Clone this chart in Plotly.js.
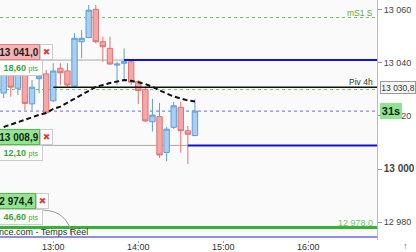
<!DOCTYPE html>
<html>
<head>
<meta charset="utf-8">
<script src="https://cdn.plot.ly/plotly-3.0.1.min.js"></script>
<style>
  html, body { margin: 0; padding: 0; background: #fff; }
  #chart { width: 416px; height: 252px; }
</style>
</head>
<body>
<div id="chart"></div>
<script>
// 5-minute candles of the session
const day = '2024-03-15';
const times = ['12:25','12:30','12:35','12:40','12:45','12:50','12:55','13:00','13:05','13:10',
               '13:15','13:20','13:25','13:30','13:35','13:40','13:45','13:50','13:55','14:00',
               '14:05','14:10','14:15','14:20','14:25','14:30','14:35','14:40'];
const open  = [13028.6,13036.5,13030.4,13035.4,13024.5,13034.0,13035.8,13025.7,13037.9,13036.9,
               13031.2,13047.9,13049.5,13060.1,13047.9,13045.4,13039.1,13039.8,13040.4,13032.9,
               13030.0,13017.8,13019.7,13006.2,13015.7,13023.2,13014.4,13012.6];
const high  = [13038.8,13038.0,13037.3,13037.3,13033.5,13038.4,13037.3,13039.8,13039.8,13039.8,
               13051.1,13052.3,13061.7,13061.7,13049.8,13049.8,13040.4,13045.4,13041.0,13033.5,
               13031.0,13026.4,13024.9,13015.9,13025.3,13025.3,13016.2,13026.2];
const low   = [13026.7,13027.2,13027.9,13022.2,13022.2,13028.5,13020.9,13025.2,13031.6,13031.0,
               13031.0,13041.7,13049.2,13047.3,13040.4,13039.1,13031.6,13033.5,13031.6,13024.5,
               13017.7,13014.1,13004.2,13003.0,13015.1,13006.2,13001.9,13012.4];
const close = [13037.3,13030.8,13035.8,13024.7,13030.8,13035.0,13021.2,13036.9,13036.2,13031.6,
               13049.2,13049.2,13059.8,13047.9,13046.0,13039.5,13039.5,13040.4,13032.7,13029.5,
               13018.1,13020.3,13005.3,13015.0,13023.8,13014.4,13013.1,13021.8];
// moving average (dashed)
const movingAvg = [13015.8,13016.7,13017.7,13018.6,13019.6,13020.4,13021.1,13022.6,13023.5,13025.0,
                   13026.7,13028.2,13029.7,13030.9,13031.6,13032.4,13032.9,13033.5,13033.2,13032.7,
                   13032.0,13030.9,13029.5,13028.4,13027.3,13026.5,13025.8,13025.4];

// reference levels
const mS1Level = 13057.0;
const pivot4hLevel = 13030.8;
const pivotBandLevel = 13029.9;
const supportLevel = 12978.0;
const lastPrice = close[close.length - 1];
const countdown = '31s';

// working orders
const orderLevels = [13041.0, 13008.9, 12974.4];
const orderPts    = ['18,60', '12,10', '46,60'];
const orderSince  = ['13:50', '14:35', null];
const orderFill   = ['#f5b3b3', '#8fe68f', '#8fe68f'];
const orderBorder = ['#e08080', '#4cbf4c', '#4cbf4c'];

// axes
const timeTicks = ['13:00', '14:00', '15:00', '16:00'];
const priceTicks = [12980, 13000, 13020, 13040, 13060];
const viewStart = '12:22:24';
const viewEnd = '16:48:30';
const priceRange = [12973.3, 13063.6];

const T = hm => `${day} ${hm.length === 5 ? hm + ':00' : hm}`;
const fmt = (v, d) => {
  const s = v.toFixed(d).split('.');
  const intPart = s[0].replace(/\B(?=(\d{3})+(?!\d))/g, ' ');
  return d ? intPart + ',' + s[1] : intPart;
};

const FONT = 'Liberation Sans, Arial, sans-serif';
const PW = 377, PH = 240;
const P = (px, py) => `${(px / PW).toFixed(4)},${(1 - py / PH).toFixed(4)}`;

const traces = [
  {
    type: 'candlestick',
    x: times.map(T), open, high, low, close,
    increasing: { line: { color: '#5f9fd8', width: 1 }, fillcolor: '#a6cff3' },
    decreasing: { line: { color: '#e07272', width: 1 }, fillcolor: '#f4a7a7' },
    whiskerwidth: 0,
    hoverinfo: 'skip',
    showlegend: false
  },
  {
    type: 'scatter', mode: 'lines',
    x: times.map(T), y: movingAvg,
    line: { color: '#111', width: 2, dash: '5px,3px' },
    hoverinfo: 'skip', showlegend: false
  }
];

const far = T('23:00');
const hline = (y, line, extra) => Object.assign({
  type: 'line', xref: 'paper', x0: 0, x1: 1, yref: 'y', y0: y, y1: y, line, layer: 'below'
}, extra || {});

const shapes = [
  hline(mS1Level, { color: '#7dbb6a', width: 1, dash: '3px,3px' }),
  hline(pivotBandLevel, { color: '#7dbb6a', width: 1, dash: '3px,3px' }),
  hline(lastPrice, { color: '#6a6ae0', width: 1, dash: '3px,3px' }),
  { type: 'line', xref: 'x', x0: T('13:00'), x1: far, yref: 'y', y0: pivot4hLevel, y1: pivot4hLevel,
    line: { color: '#111', width: 1.5 }, layer: 'above' },
  hline(supportLevel, { color: '#33b533', width: 3 }, { layer: 'above' }),
];

orderLevels.forEach((lv, i) => {
  if (orderSince[i]) {
    shapes.push({ type: 'line', xref: 'x', x0: T('12:00'), x1: T(orderSince[i]), yref: 'y', y0: lv, y1: lv,
                  line: { color: '#a8a8a8', width: 1 }, layer: 'below' });
    shapes.push({ type: 'line', xref: 'x', x0: T(orderSince[i]), x1: far, yref: 'y', y0: lv, y1: lv,
                  line: { color: '#1010e0', width: 2 }, layer: 'above' });
  } else {
    shapes.push(hline(lv, { color: '#6b6bd0', width: 1.5 }, { layer: 'above' }));
  }
});

// connector from the lifted order tag down to its level
shapes.push({ type: 'path', xref: 'paper', yref: 'paper',
              path: `M ${P(43, 210)} Q ${P(68, 211)} ${P(72, 236)}`,
              line: { color: '#9a9a9a', width: 1 } });

const ann = o => Object.assign({ showarrow: false, borderpad: 0, borderwidth: 1, align: 'center' }, o);
const annotations = [];

orderLevels.forEach((lv, i) => {
  const lifted = orderSince[i] ? 0 : 28;
  const tagShift = orderSince[i] ? -2 : -9;
  const tagW = orderSince[i] ? 40 : 43;
  const xBox = orderSince[i] ? 40 : 36;
  annotations.push(ann({
    xref: 'paper', x: 0, xanchor: 'left', xshift: tagShift, yref: 'y', y: lv, yanchor: 'bottom', yshift: lifted,
    width: tagW, height: 14, text: '<b>' + fmt(lv, 1) + '</b>',
    font: { family: FONT, size: 10, color: '#1e1e1e' }, bgcolor: orderFill[i], bordercolor: orderBorder[i]
  }));
  annotations.push(ann({
    xref: 'paper', x: 0, xanchor: 'left', xshift: xBox, yref: 'y', y: lv, yanchor: 'bottom', yshift: lifted,
    width: 11, height: 14, text: '✖',
    font: { family: 'DejaVu Sans, sans-serif', size: 9, color: '#e03c3c' }, bgcolor: '#ffffff', bordercolor: '#cccccc'
  }));
  annotations.push(ann({
    xref: 'paper', x: 0, xanchor: 'left', xshift: -1, yref: 'y', y: lv, yanchor: 'top', yshift: lifted,
    width: 42, height: 14, text: '<b>' + orderPts[i] + '</b> <span style="font-size:7px">pts</span>',
    font: { family: FONT, size: 9, color: '#3aa63a' }, bgcolor: '#fdfdfd', bordercolor: '#cccccc'
  }));
});

annotations.push(
  ann({ xref: 'paper', x: 1, xanchor: 'right', xshift: -4, yref: 'y', y: mS1Level, yanchor: 'bottom',
        borderwidth: 0, text: 'mS1 S', font: { family: FONT, size: 8.5, color: '#62a846' } }),
  ann({ xref: 'paper', x: 1, xanchor: 'right', xshift: -4, yref: 'y', y: pivot4hLevel, yanchor: 'bottom',
        borderwidth: 0, text: 'Piv 4h', font: { family: FONT, size: 8.5, color: '#333a20' } }),
  ann({ xref: 'paper', x: 1, xanchor: 'right', xshift: -4, yref: 'y', y: supportLevel, yanchor: 'bottom',
        borderwidth: 0, text: fmt(supportLevel, 1), font: { family: FONT, size: 9, color: '#77c777' } }),
  ann({ xref: 'paper', x: 0, xanchor: 'left', xshift: -6, yref: 'y', y: orderLevels[2], yanchor: 'bottom',
        borderwidth: 0, text: 'ance.com - Temps Réel', font: { family: FONT, size: 9, color: '#333' } }),
  ann({ xref: 'paper', x: 1, xanchor: 'left', xshift: 3, yref: 'y', y: pivot4hLevel, yanchor: 'middle',
        width: 34, height: 11, text: fmt(pivot4hLevel, 1),
        font: { family: FONT, size: 8.5, color: '#333' }, bgcolor: '#f6f6f6', bordercolor: '#999' }),
  ann({ xref: 'paper', x: 1, xanchor: 'left', xshift: 3, yref: 'y', y: lastPrice, yanchor: 'middle',
        width: 20, height: 14, text: '<b>' + countdown + '</b>',
        font: { family: FONT, size: 11, color: '#1a1a1a' }, bgcolor: '#8fe48f', bordercolor: '#8fe48f' }),
  ann({ xref: 'paper', x: 1, xanchor: 'left', xshift: 26, yref: 'paper', y: 0, yanchor: 'top', yshift: -1,
        borderwidth: 0, text: '<b>↑</b>', font: { family: FONT, size: 9, color: '#2a6ad0' } })
);

const layout = {
  width: 416, height: 252,
  margin: { l: 0, r: 39, t: 0, b: 12, pad: 0 },
  paper_bgcolor: '#ffffff',
  plot_bgcolor: '#fafafa',
  showlegend: false,
  boxgap: 0.2,
  boxgroupgap: 0.05,
  font: { family: FONT },
  xaxis: {
    type: 'date', range: [T(viewStart), T(viewEnd)],
    tickvals: timeTicks.map(T), ticktext: timeTicks,
    ticks: 'outside', ticklen: 2, tickcolor: '#aab',
    ticklabelstandoff: -4,
    showgrid: false, zeroline: false, showline: false,
    tickfont: { family: FONT, size: 9, color: '#333' },
    rangeslider: { visible: false }, fixedrange: true
  },
  yaxis: {
    side: 'right', range: priceRange,
    tickvals: priceTicks,
    ticktext: priceTicks.map(v => v % 100 === 0 ? '<b><span style="font-size:10px">' + fmt(v, 0) + '</span></b>' : fmt(v, 0)),
    ticks: 'outside', ticklen: 4, tickcolor: '#999',
    showline: true, linecolor: '#bbbbbb', linewidth: 1,
    showgrid: false, zeroline: false,
    tickfont: { family: FONT, size: 9, color: '#444' }, fixedrange: true
  },
  shapes, annotations
};

Plotly.newPlot('chart', traces, layout, { staticPlot: true, displayModeBar: false });
</script>
</body>
</html>
